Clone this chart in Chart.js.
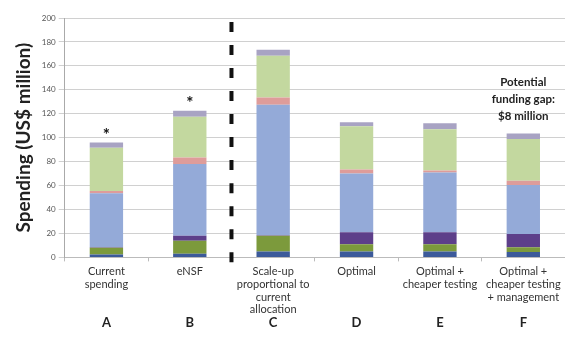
<!DOCTYPE html>
<html lang="en">
<head>
    <meta charset="UTF-8">
    <title>Spending scenarios</title>
    <script src="https://cdn.jsdelivr.net/npm/chart.js@4.4.0/dist/chart.umd.min.js"></script>
    <style>
        * {
            margin: 0;
            padding: 0;
            box-sizing: border-box;
        }

        body {
            background: #ffffff;
        }

        #chartBox {
            width: 565px;
            height: 351px;
        }
    </style>
</head>
<body>
    <div id="chartBox">
        <canvas id="spendChart" width="565" height="351"></canvas>
    </div>

    <script>
        // Scenario labels
        const categories = [
            ['Current', 'spending'],
            ['eNSF'],
            ['Scale-up', 'proportional to', 'current', 'allocation'],
            ['Optimal'],
            ['Optimal +', 'cheaper testing'],
            ['Optimal +', 'cheaper testing', '+ management']
        ];
        const letters = ['A', 'B', 'C', 'D', 'E', 'F'];
        const yTicks = [0, 20, 40, 60, 80, 100, 120, 140, 160, 180, 200];

        // Stacked segments, bottom to top (US$ million)
        const navy = [2.5, 3, 5, 5, 5, 4.5];
        const olive = [5.5, 11, 13, 6, 6, 4];
        const purple = [0.5, 4, 0.5, 10, 10, 11];
        const blue = [45, 60, 109, 49, 50, 41];
        const pink = [2, 5.5, 6, 3.5, 1.5, 3.5];
        const lightGreen = [36, 34, 35, 36, 34.5, 35];
        const lavender = [4.5, 5, 5, 3.5, 5, 4.5];

        // Bars marked with an asterisk
        const starred = [0, 1];

        const FONT = 'Lato, "Open Sans", sans-serif';

        function seg(data, color) {
            return {
                data: data,
                backgroundColor: color,
                borderWidth: 0,
                barPercentage: 0.4,
                categoryPercentage: 1.0
            };
        }

        // Dashed divider, asterisks, letters and funding gap note
        const extras = {
            id: 'extras',
            afterDatasetsDraw(chart) {
                const ctx = chart.ctx;
                const x = chart.scales.x;
                const y = chart.scales.y;
                const area = chart.chartArea;

                // divider between B and C
                const xMid = (x.getPixelForValue(1) + x.getPixelForValue(2)) / 2;
                const period = (y.getPixelForValue(0) - y.getPixelForValue(200)) / 10.4;
                ctx.save();
                ctx.strokeStyle = '#111';
                ctx.lineWidth = 4;
                ctx.setLineDash([10, period - 10]);
                ctx.beginPath();
                ctx.moveTo(xMid, area.top + 4);
                ctx.lineTo(xMid, area.bottom + 6);
                ctx.stroke();
                ctx.restore();

                ctx.save();
                ctx.textAlign = 'center';
                ctx.textBaseline = 'middle';

                // asterisks above bars
                ctx.fillStyle = '#111';
                ctx.font = 'bold 17px ' + FONT;
                starred.forEach(i => {
                    const total = navy[i] + olive[i] + purple[i] + blue[i] + pink[i] + lightGreen[i] + lavender[i];
                    ctx.fillText('*', x.getPixelForValue(i), y.getPixelForValue(total) - 7);
                });

                // scenario letters under the axis labels
                ctx.fillStyle = '#222';
                ctx.font = 'bold 13px ' + FONT;
                letters.forEach((l, i) => {
                    ctx.fillText(l, x.getPixelForValue(i), area.bottom + 65);
                });

                // note above F
                ctx.font = 'bold 11.5px ' + FONT;
                const xf = x.getPixelForValue(5);
                ctx.fillText('Potential', xf, y.getPixelForValue(146));
                ctx.fillText('funding gap:', xf, y.getPixelForValue(132));
                ctx.fillText('$8 million', xf, y.getPixelForValue(118));
                ctx.restore();
            }
        };

        const ctx = document.getElementById('spendChart').getContext('2d');
        new Chart(ctx, {
            type: 'bar',
            data: {
                labels: categories,
                datasets: [
                    seg(navy, '#3C5A9A'),
                    seg(olive, '#7C9A3C'),
                    seg(purple, '#5D3F8A'),
                    seg(blue, '#94AAD8'),
                    seg(pink, '#DE9C9A'),
                    seg(lightGreen, '#C3D89F'),
                    seg(lavender, '#A8A3C3')
                ]
            },
            options: {
                responsive: false,
                animation: false,
                layout: {
                    padding: { top: 18, left: 12, right: 0, bottom: 31 }
                },
                plugins: {
                    legend: { display: false },
                    tooltip: { enabled: false }
                },
                scales: {
                    x: {
                        stacked: true,
                        offset: true,
                        grid: {
                            offset: true,
                            drawOnChartArea: false,
                            tickLength: 4,
                            color: '#bbbbbb'
                        },
                        border: { color: '#bbbbbb' },
                        ticks: {
                            autoSkip: false,
                            maxRotation: 0,
                            padding: 4,
                            color: '#333',
                            font: { family: FONT, size: 11, lineHeight: 1.15 }
                        }
                    },
                    y: {
                        stacked: true,
                        min: 0,
                        max: 200,
                        afterBuildTicks(scale) {
                            scale.ticks = yTicks.map(v => ({ value: v }));
                        },
                        grid: {
                            color: '#d0d0d0',
                            tickLength: 6
                        },
                        border: { color: '#aaaaaa' },
                        ticks: {
                            padding: 3,
                            color: '#555',
                            font: { family: FONT, size: 8 }
                        },
                        title: {
                            display: true,
                            text: 'Spending (US$ million)',
                            color: '#222',
                            padding: { top: 0, bottom: 4 },
                            font: { family: FONT, size: 19, weight: 'bold' }
                        }
                    }
                }
            },
            plugins: [extras]
        });
    </script>
</body>
</html>
